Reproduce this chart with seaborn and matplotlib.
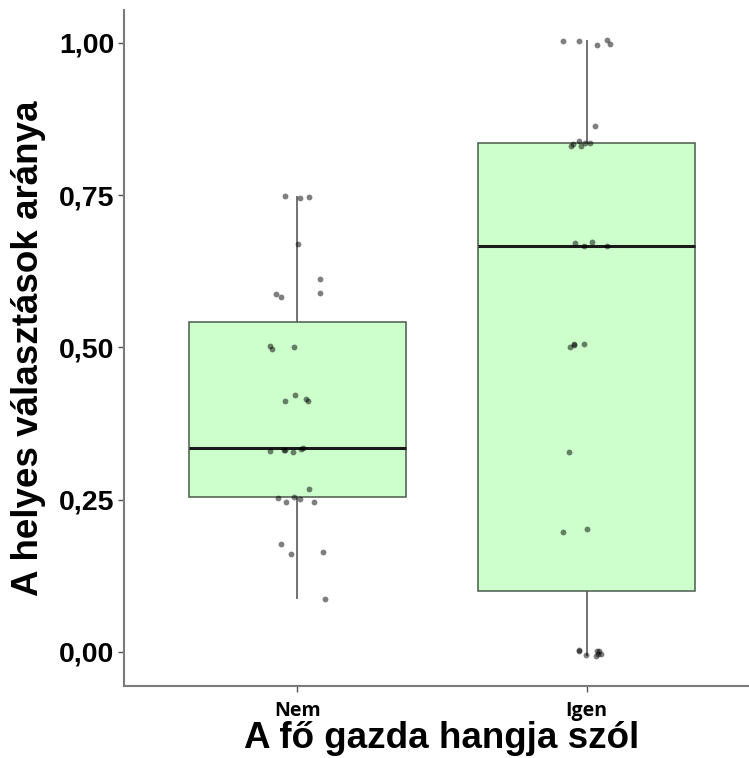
import numpy as np
import pandas as pd
import matplotlib
matplotlib.use("Agg")
import matplotlib.pyplot as plt
import seaborn as sns

categories = ["Nem", "Igen"]
nem_values = [0.745, 0.747, 0.749, 0.670, 0.612, 0.589, 0.588, 0.583,
              0.4975, 0.501, 0.502, 0.422, 0.415, 0.412, 0.412,
              0.334, 0.330, 0.333, 0.332, 0.328, 0.331,
              0.268, 0.255, 0.253, 0.251, 0.246, 0.246,
              0.177, 0.161, 0.164, 0.087]
igen_values = [0.996, 0.998, 1.004, 1.003, 1.003, 0.864,
               0.836, 0.839, 0.831, 0.831, 0.836, 0.834,
               0.672, 0.667, 0.666, 0.673,
               0.506, 0.504, 0.505, 0.501, 0.328, 0.202, 0.197,
               -0.005, 0.003, 0.002, -0.003, -0.003, 0.002, 0.001, -0.007]
yticks = [0.0, 0.25, 0.5, 0.75, 1.0]
ytick_labels = ["0,00", "0,25", "0,50", "0,75", "1,00"]
xlabel = "A fő gazda hangja szól"
ylabel = "A helyes választások aránya"

df = pd.DataFrame({
    "grp": ["Nem"] * len(nem_values) + ["Igen"] * len(igen_values),
    "val": nem_values + igen_values,
})

sns.set_theme(style="white")
plt.rcParams["font.family"] = ["Liberation Sans", "DejaVu Sans"]
plt.rcParams["text.color"] = "black"
plt.rcParams["axes.labelcolor"] = "black"
plt.rcParams["xtick.color"] = "black"
plt.rcParams["ytick.color"] = "black"

fig = plt.figure(figsize=(7.49, 7.58), dpi=100)
ax = fig.add_axes([124 / 749, 1 - 686 / 758, (760 - 124) / 749, (686 - 10) / 758])

sns.boxplot(data=df, x="grp", y="val", order=categories, color="#ccffcc",
            saturation=1, width=0.75, showfliers=False, showcaps=False,
            linecolor="#4a5a4a", linewidth=1.1,
            medianprops=dict(color="#1a1a1a", linewidth=2.2),
            whiskerprops=dict(color="#5a5a5a", linewidth=1.2),
            ax=ax)
np.random.seed(3)
sns.stripplot(data=df, x="grp", y="val", order=categories, jitter=0.1,
              color="black", alpha=0.5, size=4.2, linewidth=0, ax=ax)

ax.set_xlim(-0.6, 1.6)
ax.set_ylim(-0.056, 1.054)
ax.set_yticks(yticks)
ax.set_yticklabels(ytick_labels, fontsize=20.5, fontweight="bold",
                   family=["Liberation Sans"], color="black")
ax.set_xticks([0, 1])
ax.set_xticklabels(categories, fontsize=14, fontweight="bold",
                   family=["Open Sans"], color="black")
ax.tick_params(axis="y", length=4, width=1, color="#555555", pad=3, left=True)
ax.tick_params(axis="x", length=4, width=1, color="#555555", pad=7, bottom=True)

ax.set_xlabel(xlabel, fontsize=26.5, fontweight="bold", labelpad=0, color="black")
ax.set_ylabel(ylabel, fontsize=26.5, fontweight="bold", labelpad=9, color="black")

for s in ["top", "right"]:
    ax.spines[s].set_visible(False)
for s in ["left", "bottom"]:
    ax.spines[s].set_color("#7a7a7a")
    ax.spines[s].set_linewidth(1.5)

fig.savefig("out.png", dpi=100)
